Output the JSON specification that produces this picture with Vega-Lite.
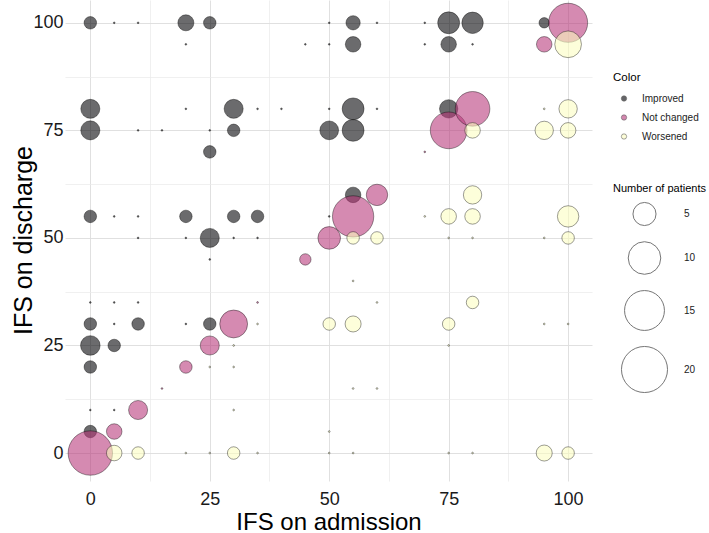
{
  "$schema": "https://vega.github.io/schema/vega-lite/v6.json",
  "width": 527,
  "height": 481,
  "autosize": {"type": "none"},
  "padding": {"left": 65, "top": 0, "right": 117, "bottom": 52},
  "background": "white",
  "config": {
    "view": {"stroke": null},
    "font": "Liberation Sans"
  },
  "datasets": {
    "pts": [
      {"a":0,"d":100,"n":1.45,"c":"Improved"},{"a":5,"d":100,"n":0,"c":"Improved"},{"a":10,"d":100,"n":0,"c":"Improved"},{"a":20,"d":100,"n":2.4,"c":"Improved"},{"a":25,"d":100,"n":1.45,"c":"Improved"},{"a":50,"d":100,"n":0,"c":"Improved"},{"a":55,"d":100,"n":1.9,"c":"Improved"},{"a":60,"d":100,"n":0,"c":"Improved"},{"a":70,"d":100,"n":0,"c":"Improved"},{"a":75,"d":100,"n":4.5,"c":"Improved"},{"a":80,"d":100,"n":4.3,"c":"Improved"},{"a":95,"d":100,"n":1.0,"c":"Improved"},
      {"a":20,"d":95,"n":0,"c":"Improved"},{"a":45,"d":95,"n":0,"c":"Improved"},{"a":50,"d":95,"n":0,"c":"Improved"},{"a":55,"d":95,"n":2.25,"c":"Improved"},{"a":70,"d":95,"n":0,"c":"Improved"},{"a":75,"d":95,"n":2.25,"c":"Improved"},{"a":80,"d":95,"n":0,"c":"Improved"},
      {"a":0,"d":80,"n":3.4,"c":"Improved"},{"a":20,"d":80,"n":0,"c":"Improved"},{"a":30,"d":80,"n":3.4,"c":"Improved"},{"a":35,"d":80,"n":0,"c":"Improved"},{"a":40,"d":80,"n":0,"c":"Improved"},{"a":50,"d":80,"n":0,"c":"Improved"},{"a":55,"d":80,"n":4.5,"c":"Improved"},{"a":60,"d":80,"n":0,"c":"Improved"},{"a":75,"d":80,"n":3.15,"c":"Improved"},
      {"a":0,"d":75,"n":3.4,"c":"Improved"},{"a":10,"d":75,"n":0,"c":"Improved"},{"a":15,"d":75,"n":0,"c":"Improved"},{"a":25,"d":75,"n":0,"c":"Improved"},{"a":30,"d":75,"n":1.45,"c":"Improved"},{"a":50,"d":75,"n":3.3,"c":"Improved"},{"a":55,"d":75,"n":4.5,"c":"Improved"},
      {"a":25,"d":70,"n":1.45,"c":"Improved"},
      {"a":55,"d":60,"n":2.25,"c":"Improved"},
      {"a":0,"d":55,"n":1.45,"c":"Improved"},{"a":5,"d":55,"n":0,"c":"Improved"},{"a":10,"d":55,"n":0,"c":"Improved"},{"a":20,"d":55,"n":1.45,"c":"Improved"},{"a":30,"d":55,"n":1.45,"c":"Improved"},{"a":35,"d":55,"n":1.45,"c":"Improved"},{"a":50,"d":55,"n":0,"c":"Improved"},
      {"a":10,"d":50,"n":0,"c":"Improved"},{"a":20,"d":50,"n":0,"c":"Improved"},{"a":25,"d":50,"n":3.4,"c":"Improved"},{"a":30,"d":50,"n":0,"c":"Improved"},{"a":35,"d":50,"n":0,"c":"Improved"},
      {"a":25,"d":45,"n":0,"c":"Improved"},
      {"a":0,"d":35,"n":0,"c":"Improved"},{"a":5,"d":35,"n":0,"c":"Improved"},{"a":10,"d":35,"n":0,"c":"Improved"},
      {"a":0,"d":30,"n":1.45,"c":"Improved"},{"a":5,"d":30,"n":0,"c":"Improved"},{"a":10,"d":30,"n":1.45,"c":"Improved"},{"a":20,"d":30,"n":0,"c":"Improved"},{"a":25,"d":30,"n":1.45,"c":"Improved"},
      {"a":0,"d":25,"n":3.6,"c":"Improved"},{"a":5,"d":25,"n":1.45,"c":"Improved"},
      {"a":0,"d":20,"n":1.45,"c":"Improved"},
      {"a":0,"d":10,"n":0,"c":"Improved"},{"a":5,"d":10,"n":0,"c":"Improved"},
      {"a":0,"d":5,"n":1.45,"c":"Improved"},
      {"a":0,"d":0,"n":18.6,"c":"Not changed"},{"a":5,"d":5,"n":2.25,"c":"Not changed"},{"a":10,"d":10,"n":3.4,"c":"Not changed"},{"a":15,"d":15,"n":0,"c":"Not changed"},{"a":20,"d":20,"n":1.45,"c":"Not changed"},{"a":25,"d":25,"n":3.4,"c":"Not changed"},{"a":30,"d":30,"n":7.3,"c":"Not changed"},{"a":35,"d":35,"n":0,"c":"Not changed"},{"a":45,"d":45,"n":1.2,"c":"Not changed"},{"a":50,"d":50,"n":4.8,"c":"Not changed"},{"a":55,"d":55,"n":16.1,"c":"Not changed"},{"a":60,"d":60,"n":4.3,"c":"Not changed"},{"a":70,"d":70,"n":0,"c":"Not changed"},{"a":75,"d":75,"n":12.7,"c":"Not changed"},{"a":80,"d":80,"n":11.3,"c":"Not changed"},{"a":95,"d":95,"n":2.25,"c":"Not changed"},{"a":100,"d":100,"n":14.4,"c":"Not changed"},
      {"a":5,"d":0,"n":2.25,"c":"Worsened"},{"a":10,"d":0,"n":1.45,"c":"Worsened"},{"a":20,"d":0,"n":0,"c":"Worsened"},{"a":25,"d":0,"n":0,"c":"Worsened"},{"a":30,"d":0,"n":1.45,"c":"Worsened"},{"a":35,"d":0,"n":0,"c":"Worsened"},{"a":50,"d":0,"n":0,"c":"Worsened"},{"a":55,"d":0,"n":0,"c":"Worsened"},{"a":75,"d":0,"n":0,"c":"Worsened"},{"a":80,"d":0,"n":0,"c":"Worsened"},{"a":95,"d":0,"n":2.4,"c":"Worsened"},{"a":100,"d":0,"n":1.45,"c":"Worsened"},
      {"a":50,"d":5,"n":0,"c":"Worsened"},
      {"a":30,"d":10,"n":0,"c":"Worsened"},
      {"a":55,"d":15,"n":0,"c":"Worsened"},{"a":60,"d":15,"n":0,"c":"Worsened"},
      {"a":25,"d":20,"n":0,"c":"Worsened"},{"a":30,"d":20,"n":0,"c":"Worsened"},
      {"a":30,"d":25,"n":0,"c":"Worsened"},{"a":75,"d":25,"n":0,"c":"Worsened"},
      {"a":35,"d":30,"n":0,"c":"Worsened"},{"a":50,"d":30,"n":1.45,"c":"Worsened"},{"a":55,"d":30,"n":2.4,"c":"Worsened"},{"a":75,"d":30,"n":1.45,"c":"Worsened"},{"a":95,"d":30,"n":0,"c":"Worsened"},{"a":100,"d":30,"n":0,"c":"Worsened"},
      {"a":60,"d":35,"n":0,"c":"Worsened"},{"a":80,"d":35,"n":1.45,"c":"Worsened"},
      {"a":55,"d":40,"n":0,"c":"Worsened"},
      {"a":55,"d":50,"n":1.45,"c":"Worsened"},{"a":60,"d":50,"n":1.45,"c":"Worsened"},{"a":75,"d":50,"n":0,"c":"Worsened"},{"a":80,"d":50,"n":0,"c":"Worsened"},{"a":95,"d":50,"n":0,"c":"Worsened"},{"a":100,"d":50,"n":1.45,"c":"Worsened"},
      {"a":70,"d":55,"n":0,"c":"Worsened"},{"a":75,"d":55,"n":2.25,"c":"Worsened"},{"a":80,"d":55,"n":2.25,"c":"Worsened"},{"a":100,"d":55,"n":4.3,"c":"Worsened"},
      {"a":80,"d":60,"n":3.15,"c":"Worsened"},
      {"a":80,"d":75,"n":2.25,"c":"Worsened"},{"a":95,"d":75,"n":3.15,"c":"Worsened"},{"a":100,"d":75,"n":2.25,"c":"Worsened"},
      {"a":95,"d":80,"n":0,"c":"Worsened"},{"a":100,"d":80,"n":3.15,"c":"Worsened"},
      {"a":100,"d":95,"n":6.7,"c":"Worsened"}
    ]
  },
  "data": {"name": "pts"},
  "mark": {
    "type": "point",
    "shape": "circle",
    "filled": true,
    "fillOpacity": 0.58,
    "stroke": "black",
    "strokeOpacity": 0.65,
    "strokeWidth": 0.6
  },
  "encoding": {
    "x": {
      "field": "a",
      "type": "quantitative",
      "scale": {"domain": [-5.3, 105], "nice": false, "zero": false},
      "axis": {
        "title": "IFS on admission",
        "values": [0, 12.5, 25, 37.5, 50, 62.5, 75, 87.5, 100],
        "labelExpr": "datum.value % 25 === 0 ? datum.label : ''",
        "labelOverlap": false,
        "labelFlush": false,
        "domain": false,
        "ticks": false,
        "labelFontSize": 18,
        "labelColor": "#1a1a1a",
        "labelPadding": 9,
        "gridColor": {"condition": {"test": "datum.value % 25 === 0", "value": "#DCDCDC"}, "value": "#EAEAEA"},
        "gridWidth": {"condition": {"test": "datum.value % 25 === 0", "value": 0.9}, "value": 0.7},
        "titleFontSize": 24,
        "titleFontWeight": "normal",
        "titleColor": "black",
        "titleBaseline": "alphabetic",
        "titleY": 48
      }
    },
    "y": {
      "field": "d",
      "type": "quantitative",
      "scale": {"domain": [-6.5, 105.3], "nice": false, "zero": false},
      "axis": {
        "title": "IFS on discharge",
        "values": [0, 12.5, 25, 37.5, 50, 62.5, 75, 87.5, 100],
        "labelExpr": "datum.value % 25 === 0 ? datum.label : ''",
        "labelOverlap": false,
        "labelFlush": false,
        "domain": false,
        "ticks": false,
        "labelFontSize": 18,
        "labelColor": "#1a1a1a",
        "labelPadding": 2,
        "gridColor": {"condition": {"test": "datum.value % 25 === 0", "value": "#DCDCDC"}, "value": "#EAEAEA"},
        "gridWidth": {"condition": {"test": "datum.value % 25 === 0", "value": 0.9}, "value": 0.7},
        "titleFontSize": 25,
        "titleFontWeight": "normal",
        "titleColor": "black",
        "titleBaseline": "alphabetic",
        "titleAngle": -90,
        "titleAlign": "center",
        "titleX": -34,
        "titleY": 240
      }
    },
    "fill": {
      "field": "c",
      "type": "nominal",
      "scale": {"domain": ["Improved", "Not changed", "Worsened"], "range": ["#000004", "#B63679", "#FCFDBF"]},
      "legend": {
        "title": "Color",
        "orient": "none",
        "legendX": 548,
        "legendY": 72,
        "titleFontSize": 11.5,
        "titleFontWeight": "normal",
        "titleColor": "black",
        "titleLimit": 200,
        "labelFontSize": 10,
        "labelColor": "#222",
        "symbolType": "circle",
        "symbolSize": 28,
        "symbolOpacity": 0.6,
        "symbolStrokeColor": "black",
        "symbolStrokeWidth": 0.6,
        "symbolOffset": 6,
        "labelOffset": 13,
        "rowPadding": 9,
        "titlePadding": 10
      }
    },
    "size": {
      "field": "n",
      "type": "quantitative",
      "scale": {"domain": [0, 20], "range": [3, 2120]},
      "legend": {
        "title": "Number of patients",
        "orient": "none",
        "legendX": 548,
        "legendY": 183,
        "values": [5, 10, 15, 20],
        "titleFontSize": 11,
        "titleFontWeight": "normal",
        "titleColor": "black",
        "titleLimit": 200,
        "labelFontSize": 10,
        "labelColor": "#222",
        "symbolType": "circle",
        "symbolFillColor": "white",
        "symbolStrokeColor": "#666",
        "symbolStrokeWidth": 0.9,
        "symbolOffset": 8,
        "labelOffset": 16,
        "rowPadding": 11,
        "titlePadding": 8
      }
    }
  }
}
